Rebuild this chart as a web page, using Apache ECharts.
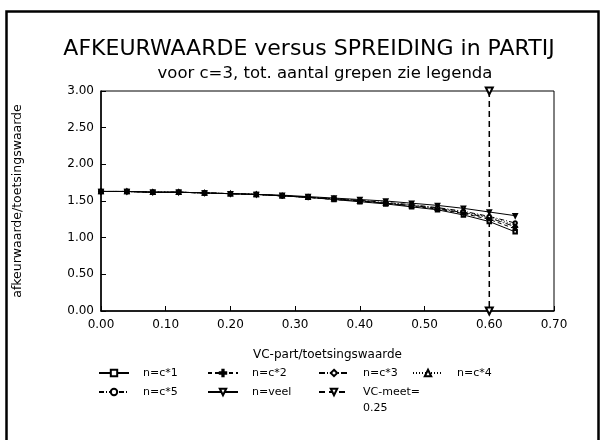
<!DOCTYPE html>
<html>
<head>
<meta charset="utf-8">
<script src="https://cdn.jsdelivr.net/npm/echarts@6/dist/echarts.min.js"></script>
<style>html,body{margin:0;padding:0;background:#fff}#c{width:603px;height:440px}</style>
</head>
<body>
<div id="c"></div>
<script>
var xValues = [0, 0.04, 0.08, 0.12, 0.16, 0.20, 0.24, 0.28, 0.32, 0.36, 0.40, 0.44, 0.48, 0.52, 0.56, 0.60, 0.64];
var nc1  = [1.63,1.63,1.62,1.62,1.61,1.60,1.59,1.57,1.55,1.52,1.49,1.46,1.42,1.38,1.31,1.22,1.08];
var nc2  = [1.63,1.63,1.62,1.62,1.61,1.60,1.59,1.57,1.55,1.52,1.50,1.47,1.43,1.39,1.33,1.25,1.12];
var nc3  = [1.63,1.63,1.62,1.62,1.61,1.60,1.59,1.57,1.55,1.53,1.50,1.47,1.44,1.40,1.34,1.27,1.15];
var nc4  = [1.63,1.63,1.62,1.62,1.61,1.60,1.59,1.57,1.55,1.53,1.50,1.47,1.44,1.40,1.35,1.28,1.17];
var nc5  = [1.63,1.63,1.62,1.62,1.61,1.60,1.59,1.57,1.55,1.53,1.51,1.48,1.45,1.41,1.36,1.29,1.20];
var nVeel= [1.63,1.63,1.62,1.62,1.61,1.60,1.59,1.58,1.56,1.54,1.52,1.50,1.47,1.44,1.40,1.35,1.30];
var vcMeetX = [0.60, 0.60];
var vcMeetY = [3.00, 0.00];
var seriesNames = ['n=c*1','n=c*2','n=c*3','n=c*4','n=c*5','n=veel','VC-meet=0.25'];

function pairs(xs, ys){ return xs.map(function(x,i){ return [x, ys[i]]; }); }

var FONT = 'DejaVu Sans';
var styles = [
  {sym:'emptyRect', type:'solid', rot:0},
  {sym:'path://M4,0H6V10H4ZM0,4H10V6H0Z', type:[4,3], rot:0},
  {sym:'emptyDiamond', type:[6,2,1,2], rot:0},
  {sym:'emptyTriangle', type:[1,2], rot:0},
  {sym:'emptyCircle', type:[5,2,1,2], rot:0},
  {sym:'emptyTriangle', type:'solid', rot:180},
  {sym:'emptyTriangle', type:[6,4], rot:180}
];
var dataSets = [nc1,nc2,nc3,nc4,nc5,nVeel];
var series = [];
seriesNames.forEach(function(name, i){
  var d = i < 6 ? pairs(xValues, dataSets[i]) : pairs(vcMeetX, vcMeetY);
  series.push({
    name: name, type: 'line', data: d,
    symbol: styles[i].sym, symbolSize: i===6 ? 7 : 3.5, symbolRotate: styles[i].rot,
    showAllSymbol: true, clip: false,
    lineStyle: {color:'#000', width: i===6 ? 1.5 : 1, type: styles[i].type},
    itemStyle: {color:'#000', borderColor:'#000', borderWidth:1},
    emphasis: {disabled:true}, animation:false
  });
});

var legendPos = [
  {left:93, top:360}, {left:202, top:360}, {left:313, top:360}, {left:407, top:360},
  {left:93, top:379}, {left:202, top:379}, {left:313, top:363}
];
var legends = seriesNames.map(function(name, i){
  return {
    data:[name], left: legendPos[i].left, top: legendPos[i].top,
    itemWidth: 30, itemHeight: 8, itemGap: 10,
    textStyle:{fontFamily:FONT, fontSize:11, color:'#000', lineHeight:16, padding:[0,0,0,9]},
    formatter: function(n){ return n === 'VC-meet=0.25' ? '\u00a0\nVC-meet=\n0.25' : n; },
    selectedMode:false
  };
});

var chart = echarts.init(document.getElementById('c'), null, {renderer:'canvas'});
chart.setOption({
  animation:false,
  backgroundColor:'#fff',
  title:[
    {text:'AFKEURWAARDE versus SPREIDING in PARTIJ', left:304, textAlign:'center', top:33,
     textStyle:{fontFamily:FONT, fontSize:22, fontWeight:'normal', color:'#000'}},
    {text:'voor c=3, tot. aantal grepen zie legenda', left:320, textAlign:'center', top:60,
     textStyle:{fontFamily:FONT, fontSize:16.5, fontWeight:'normal', color:'#000'}}
  ],
  legend: legends,
  grid:{left:101, top:91, width:453, height:220, show:true, borderColor:'#000', borderWidth:1, backgroundColor:'transparent'},
  xAxis:{
    type:'value', min:0, max:0.7, interval:0.1,
    name:'VC-part/toetsingswaarde', nameLocation:'middle', nameGap:38,
    nameTextStyle:{fontFamily:FONT, fontSize:12, color:'#000'},
    axisLine:{show:true, onZero:false, lineStyle:{color:'#000', width:1.5}},
    axisTick:{show:true, inside:true, length:5, lineStyle:{color:'#000'}},
    axisLabel:{fontFamily:FONT, fontSize:12, color:'#000', margin:8,
      formatter:function(v){ return v.toFixed(2); }},
    splitLine:{show:false}
  },
  yAxis:{
    type:'value', min:0, max:3, interval:0.5,
    name:'afkeurwaarde/toetsingswaarde', nameLocation:'middle', nameGap:77,
    nameTextStyle:{fontFamily:FONT, fontSize:12.5, color:'#000'},
    axisLine:{show:true, onZero:false, lineStyle:{color:'#000', width:1.5}},
    axisTick:{show:true, inside:true, length:5, lineStyle:{color:'#000'}},
    axisLabel:{fontFamily:FONT, fontSize:12, color:'#000', margin:7,
      formatter:function(v){ return v.toFixed(2); }},
    splitLine:{show:false}
  },
  graphic:[
    {type:'rect', left:4, top:9, shape:{width:592, height:440},
     style:{fill:'none', stroke:'#000', lineWidth:2.5}, silent:true}
  ],
  series: series
});
</script>
</body>
</html>
